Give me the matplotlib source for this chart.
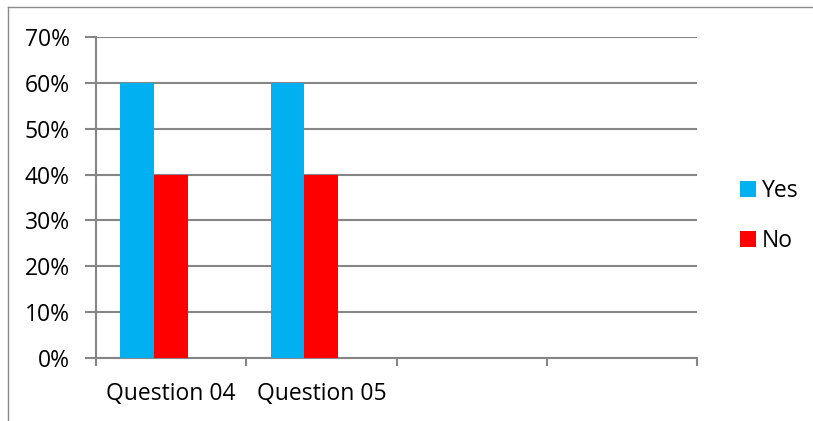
import numpy as np
import matplotlib.pyplot as plt
from matplotlib.lines import Line2D

categories = ["Question 04", "Question 05", "", ""]
yes_values = [0.60, 0.60, np.nan, np.nan]
no_values = [0.40, 0.40, np.nan, np.nan]

font_size = 16.5
plt.rcParams.update({"font.family": "Open Sans", "font.size": font_size})

fig = plt.figure(figsize=(8.13, 4.21), dpi=100)
ax = fig.add_axes([96 / 813, 63 / 421, 601 / 813, 321 / 421])

grid_color = "#868686"
x = np.arange(len(categories))
width = 0.225
ax.bar(x - width, yes_values, width, color="#00B0F0", label="Yes", zorder=3)
ax.bar(x, no_values, width, color="#FF0000", label="No", zorder=3)

ax.set_xlim(-0.5, len(categories) - 0.5)
ax.set_ylim(0, 0.7)
ax.set_yticks(np.arange(0, 0.71, 0.1))
ax.set_yticklabels(["{:.0f}%".format(v * 100) for v in np.arange(0, 0.71, 0.1)])
ax.yaxis.grid(True, color=grid_color, linewidth=1.5, zorder=0)
ax.tick_params(axis="y", length=8, width=1.5, color=grid_color, pad=11)

ax.set_xticks(x)
ax.set_xticklabels(categories)
ax.set_xticks(np.arange(-0.5, len(categories)), minor=True)
ax.tick_params(axis="x", which="major", length=0, pad=17)
ax.tick_params(axis="x", which="minor", length=6, width=1.5, color=grid_color)

for side in ["top", "right"]:
    ax.spines[side].set_visible(False)
for side in ["left", "bottom"]:
    ax.spines[side].set_color(grid_color)
    ax.spines[side].set_linewidth(1.5)

# chart area border
fig.add_artist(Line2D([8 / 813, 1], [1 - 7 / 421, 1 - 7 / 421], color="#8c8c8c", linewidth=1))
fig.add_artist(Line2D([8 / 813, 8 / 813], [0, 1 - 7 / 421], color="#8c8c8c", linewidth=1))

fig.legend(loc="center left", bbox_to_anchor=(731 / 813, 1 - 216 / 421), frameon=False,
           handlelength=0.7, handleheight=0.7, handletextpad=0.25, labelspacing=1.1,
           borderaxespad=0, fontsize=font_size)

plt.savefig("out.png", dpi=100)
